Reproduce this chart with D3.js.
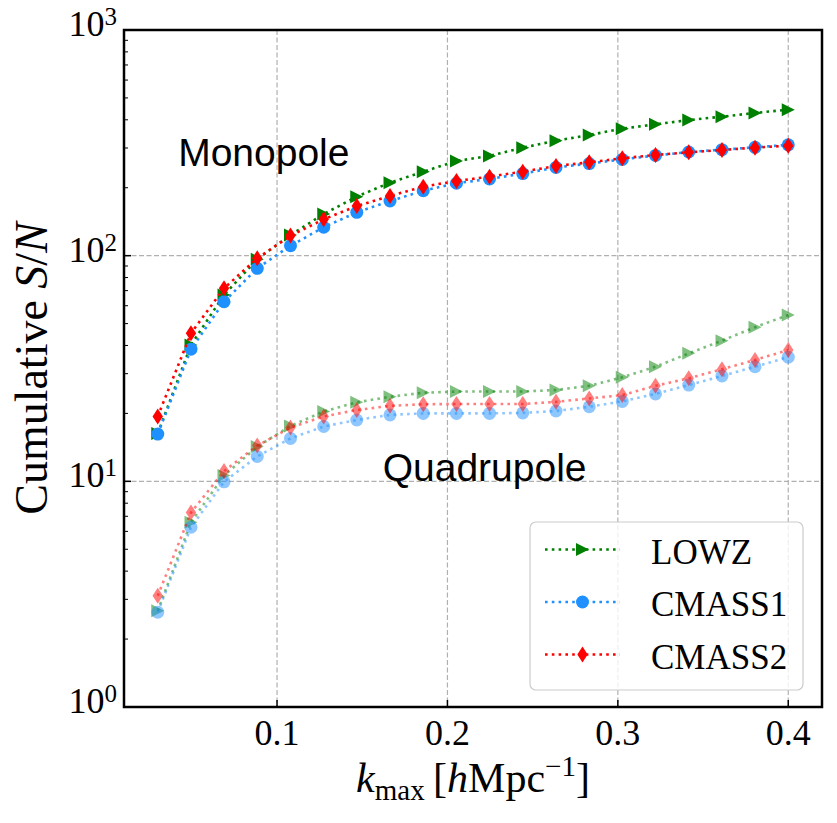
<!DOCTYPE html>
<html>
<head>
<meta charset="utf-8">
<script src="https://cdn.jsdelivr.net/npm/d3@7/dist/d3.min.js"></script>
<style>
  body { margin: 0; background: #fff; }
  svg { display: block; }
</style>
</head>
<body>
<svg id="chart"></svg>
<script>
// k_max bins (h/Mpc), 20 of them from 0.03 to 0.4
const kMax = [0.0300, 0.0495, 0.0689, 0.0884, 0.1079, 0.1274, 0.1468, 0.1663, 0.1858, 0.2053,
              0.2247, 0.2442, 0.2637, 0.2832, 0.3026, 0.3221, 0.3416, 0.3611, 0.3805, 0.4000];

const sampleNames = ['LOWZ', 'CMASS1', 'CMASS2'];

// cumulative S/N, monopole
const monoLOWZ   = [16.3, 40.2, 67.0, 96.4, 123.5, 153.0, 182.6, 210.6, 235.5, 262.8,
                    276.6, 301.0, 323.2, 342.5, 365.3, 382.0, 399.0, 413.0, 429.0, 443.6];
const monoCMASS1 = [16.2, 38.5, 62.5, 87.9, 110.7, 133.6, 155.6, 174.7, 194.0, 209.4,
                    218.8, 231.0, 246.0, 256.0, 267.0, 278.0, 288.0, 295.0, 302.0, 310.0];
const monoCMASS2 = [19.4, 45.3, 71.7, 97.3, 122.7, 144.9, 166.0, 183.9, 202.2, 214.3,
                    224.0, 235.6, 249.7, 259.2, 270.0, 279.4, 287.1, 294.0, 301.0, 307.3];

// cumulative S/N, quadrupole
const quadLOWZ   = [2.67, 6.59, 10.6, 14.25, 17.6, 20.4, 22.4, 23.7, 24.7, 25.0,
                    25.0, 25.0, 25.4, 26.5, 28.9, 32.2, 36.9, 42.0, 48.2, 54.6];
const quadCMASS1 = [2.63, 6.26, 9.95, 12.9, 15.5, 17.5, 18.7, 19.7, 20.0, 20.0,
                    20.0, 20.1, 20.5, 21.4, 22.6, 24.4, 26.7, 29.3, 32.2, 35.5];
const quadCMASS2 = [3.11, 7.27, 11.1, 14.4, 17.3, 19.4, 20.7, 21.6, 21.96, 22.0,
                    22.0, 22.0, 22.5, 23.3, 24.1, 26.5, 28.6, 31.4, 34.5, 38.2];

const xTickValues = [0.1, 0.2, 0.3, 0.4];
const xTickLabels = ['0.1', '0.2', '0.3', '0.4'];
const yTickValues = [1, 10, 100, 1000];
const yTickExponents = ['0', '1', '2', '3'];

// marker shapes, roughly matplotlib's '>', 'o' and 'd'
// (size here = full marker height in px, not area)
const triangleRight = {
    draw(ctx, s) {
        let r = s / 2;
        ctx.moveTo(r, 0);
        ctx.lineTo(-r, r);
        ctx.lineTo(-r, -r);
        ctx.closePath();
    }
};
const circleMarker = {
    draw(ctx, s) {
        let r = s / 2;
        ctx.moveTo(r, 0);
        ctx.arc(0, 0, r, 0, 2 * Math.PI);
    }
};
const thinDiamond = {
    draw(ctx, s) {
        let h = s / 2, w = h * 0.65;
        ctx.moveTo(0, -h);
        ctx.lineTo(w, 0);
        ctx.lineTo(0, h);
        ctx.lineTo(-w, 0);
        ctx.closePath();
    }
};

class SNChart {
    constructor(_config) {
        this.config = {
            parentElement: _config.parentElement,
            containerWidth: _config.containerWidth || 837,
            containerHeight: _config.containerHeight || 823,
            margin: {top: 30, right: 15, bottom: 116, left: 124}
        };
        this.series = [
            {name: sampleNames[0], color: 'green',   symbol: triangleRight, size: 13, mono: monoLOWZ,   quad: quadLOWZ},
            {name: sampleNames[1], color: '#1e90ff', symbol: circleMarker,  size: 13, mono: monoCMASS1, quad: quadCMASS1},
            {name: sampleNames[2], color: 'red',     symbol: thinDiamond,   size: 16, mono: monoCMASS2, quad: quadCMASS2}
        ];
        this.initVis();
    }

    initVis() {
        let vis = this;

        vis.width = vis.config.containerWidth - vis.config.margin.left - vis.config.margin.right;
        vis.height = vis.config.containerHeight - vis.config.margin.top - vis.config.margin.bottom;

        vis.svg = d3.select(vis.config.parentElement)
            .attr('width', vis.config.containerWidth)
            .attr('height', vis.config.containerHeight);

        vis.chart = vis.svg.append('g')
            .attr('transform', `translate(${vis.config.margin.left}, ${vis.config.margin.top})`);

        vis.xScale = d3.scaleLinear()
            .domain([0.0102, 0.4198])
            .range([0, vis.width]);

        vis.yScale = d3.scaleLog()
            .domain([1, 1000])
            .range([vis.height, 0]);

        vis.renderVis();
    }

    renderVis() {
        let vis = this;

        // dashed grid
        vis.chart.append('g').selectAll('line')
            .data(xTickValues)
            .join('line')
                .attr('x1', d => vis.xScale(d))
                .attr('x2', d => vis.xScale(d))
                .attr('y1', 0)
                .attr('y2', vis.height)
                .attr('stroke', '#b0b0b0')
                .attr('stroke-width', 1.2)
                .attr('stroke-dasharray', '5,2.5');

        vis.chart.append('g').selectAll('line')
            .data(yTickValues.slice(1, 3))
            .join('line')
                .attr('x1', 0)
                .attr('x2', vis.width)
                .attr('y1', d => vis.yScale(d))
                .attr('y2', d => vis.yScale(d))
                .attr('stroke', '#b0b0b0')
                .attr('stroke-width', 1.2)
                .attr('stroke-dasharray', '5,2.5');

        const line = d3.line()
            .x((d, i) => vis.xScale(kMax[i]))
            .y(d => vis.yScale(d));

        // monopole solid colours, quadrupole half transparent
        ['mono', 'quad'].forEach(key => {
            let alpha = key === 'mono' ? 1 : 0.5;
            vis.series.forEach(s => {
                let g = vis.chart.append('g');
                g.append('path')
                    .attr('d', line(s[key]))
                    .attr('fill', 'none')
                    .attr('stroke', s.color)
                    .attr('stroke-width', 2.6)
                    .attr('stroke-dasharray', '2.6,4.2')
                    .attr('opacity', alpha);
                g.selectAll('path.marker')
                    .data(s[key])
                    .join('path')
                        .attr('class', 'marker')
                        .attr('d', d3.symbol().type(s.symbol).size(s.size))
                        .attr('transform', (d, i) => `translate(${vis.xScale(kMax[i])},${vis.yScale(d)})`)
                        .attr('fill', s.color)
                        .attr('opacity', alpha);
            });
        });

        // frame
        vis.chart.append('rect')
            .attr('width', vis.width)
            .attr('height', vis.height)
            .attr('fill', 'none')
            .attr('stroke', '#000')
            .attr('stroke-width', 2.5);

        // x ticks, pointing in
        vis.chart.append('g').selectAll('line')
            .data(xTickValues)
            .join('line')
                .attr('x1', d => vis.xScale(d))
                .attr('x2', d => vis.xScale(d))
                .attr('y1', vis.height)
                .attr('y2', vis.height - 7)
                .attr('stroke', '#000')
                .attr('stroke-width', 1.5);

        vis.chart.append('g').selectAll('text')
            .data(xTickValues)
            .join('text')
                .attr('x', d => vis.xScale(d))
                .attr('y', vis.height + 38)
                .attr('text-anchor', 'middle')
                .style('font-family', '"Liberation Serif", serif')
                .style('font-size', '36px')
                .text((d, i) => xTickLabels[i]);

        // y ticks: majors + minors (2..9 per decade)
        let minors = [];
        yTickValues.slice(0, 3).forEach(base => {
            for (let m = 2; m <= 9; m++) minors.push(base * m);
        });

        vis.chart.append('g').selectAll('line')
            .data(minors)
            .join('line')
                .attr('x1', 0)
                .attr('x2', 4)
                .attr('y1', d => vis.yScale(d))
                .attr('y2', d => vis.yScale(d))
                .attr('stroke', '#000')
                .attr('stroke-width', 1);

        vis.chart.append('g').selectAll('line')
            .data(yTickValues)
            .join('line')
                .attr('x1', 0)
                .attr('x2', 7)
                .attr('y1', d => vis.yScale(d))
                .attr('y2', d => vis.yScale(d))
                .attr('stroke', '#000')
                .attr('stroke-width', 1.5);

        let yLabels = vis.chart.append('g').selectAll('text')
            .data(yTickValues)
            .join('text')
                .attr('x', -7)
                .attr('y', d => vis.yScale(d) + 6)
                .attr('text-anchor', 'end')
                .style('font-family', '"Liberation Serif", serif')
                .style('font-size', '36px');
        yLabels.append('tspan').text('10');
        yLabels.append('tspan')
            .attr('dy', -11)
            .style('font-size', '25px')
            .text((d, i) => yTickExponents[i]);

        // axis titles
        let xLabel = vis.svg.append('text')
            .attr('x', vis.config.margin.left + vis.width / 2)
            .attr('y', 792)
            .attr('text-anchor', 'middle')
            .style('font-family', '"Liberation Serif", serif')
            .style('font-size', '42px');
        xLabel.append('tspan').style('font-style', 'italic').text('k');
        xLabel.append('tspan').attr('dy', 8).style('font-size', '29px').text('max');
        xLabel.append('tspan').attr('dy', -8).text('\u2009[');
        xLabel.append('tspan').style('font-style', 'italic').text('h');
        xLabel.append('tspan').text('Mpc');
        xLabel.append('tspan').attr('dy', -16).style('font-size', '29px').text('\u22121');
        xLabel.append('tspan').attr('dy', 16).text(']');

        let yLabel = vis.svg.append('text')
            .attr('transform', `translate(47, ${vis.config.margin.top + vis.height / 2}) rotate(-90)`)
            .attr('text-anchor', 'middle')
            .style('font-family', '"Liberation Serif", serif')
            .style('font-size', '46px');
        yLabel.append('tspan').text('Cumulative ');
        yLabel.append('tspan').style('font-style', 'italic').text('S');
        yLabel.append('tspan').text('/');
        yLabel.append('tspan').style('font-style', 'italic').text('N');

        // annotations
        vis.chart.append('text')
            .attr('x', vis.xScale(0.042))
            .attr('y', vis.yScale(250))
            .style('font-family', '"Liberation Sans", sans-serif')
            .style('font-size', '39px')
            .text('Monopole');

        vis.chart.append('text')
            .attr('x', vis.xScale(0.162))
            .attr('y', vis.yScale(10))
            .style('font-family', '"Liberation Sans", sans-serif')
            .style('font-size', '39px')
            .text('Quadrupole');

        // legend box, lower right
        let legend = vis.svg.append('g').attr('transform', 'translate(530, 522)');
        legend.append('rect')
            .attr('width', 273)
            .attr('height', 168)
            .attr('rx', 6)
            .attr('fill', '#fff')
            .attr('fill-opacity', 0.8)
            .attr('stroke', '#cccccc')
            .attr('stroke-width', 1.2);

        let rows = legend.selectAll('g.row')
            .data(vis.series)
            .join('g')
                .attr('class', 'row')
                .attr('transform', (d, i) => `translate(0, ${27.5 + i * 52.5})`);

        rows.append('line')
            .attr('x1', 15)
            .attr('x2', 90)
            .attr('stroke', d => d.color)
            .attr('stroke-width', 2.6)
            .attr('stroke-dasharray', '2.6,4.2');
        rows.append('path')
            .attr('d', d => d3.symbol().type(d.symbol).size(d.size)())
            .attr('transform', 'translate(52.5, 0)')
            .attr('fill', d => d.color);
        rows.append('text')
            .attr('x', 121)
            .attr('y', 14)
            .style('font-family', '"Liberation Serif", serif')
            .style('font-size', '35px')
            .text(d => d.name);
    }
}

new SNChart({parentElement: '#chart'});
</script>
</body>
</html>
